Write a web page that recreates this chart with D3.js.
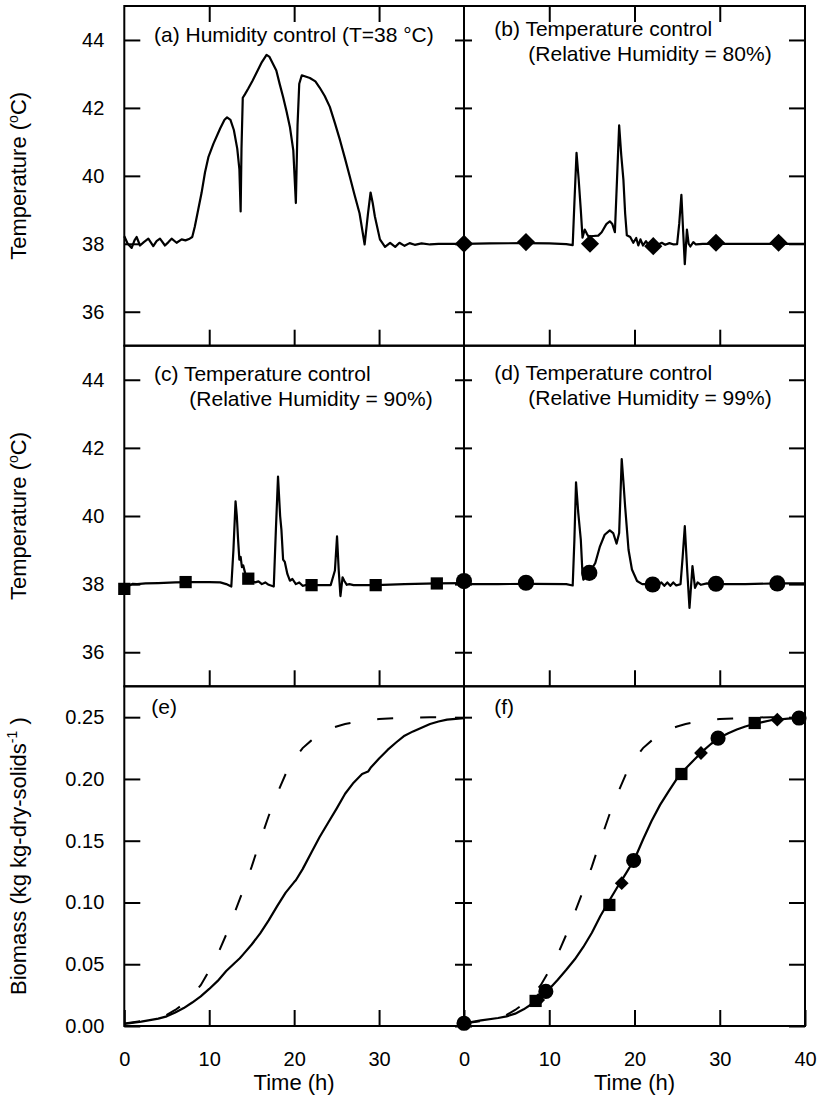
<!DOCTYPE html>
<html>
<head>
<meta charset="utf-8">
<script src="https://cdn.jsdelivr.net/npm/d3@7"></script>
<style>
    body { margin: 0; background: #fff; }
    svg { font-family: "Liberation Sans", Arial, Helvetica, sans-serif; }
</style>
</head>
<body>
<div id="chart"></div>
<script>
'use strict';

// Tick values.
var hourTicks = [10, 20, 30];
var hourLabelsLeft = [0, 10, 20, 30];
var hourLabelsRight = [0, 10, 20, 30, 40];
var tempTicks = [36, 38, 40, 42, 44];
var bioTicks = [0, 0.05, 0.10, 0.15, 0.20, 0.25];

// (a) Humidity control, T set point 38 C: [time h, temperature C]
var tempA = [[0,38.22],[0.4,38.0],[0.87,37.88],[1.2,38.1],[1.45,38.2],[1.85,37.95],[2.3,38.05],[2.83,38.15],
    [3.41,37.93],[3.8,38.08],[4.2,38.15],[4.79,37.95],[5.2,38.05],[5.57,38.15],[6.16,38.03],[6.75,38.13],
    [7.2,38.1],[7.7,38.15],[8.0,38.2],[8.3,38.5],[8.7,39.0],[9.1,39.5],[9.5,40.1],[9.9,40.55],[10.5,40.95],
    [11.3,41.4],[11.8,41.65],[12.1,41.72],[12.5,41.65],[12.9,41.35],[13.3,40.8],[13.55,40.2],[13.7,38.95],
    [13.8,40.8],[13.95,42.3],[14.2,42.4],[14.6,42.57],[15.1,42.8],[15.6,43.05],[16.2,43.35],[16.75,43.56],
    [17.1,43.5],[17.5,43.3],[17.9,43.1],[18.3,42.7],[18.7,42.32],[19.1,41.9],[19.5,41.44],[19.9,40.75],
    [20.2,39.2],[20.4,41.5],[20.6,42.71],[20.9,42.96],[21.85,42.88],[22.5,42.78],[23.0,42.6],[23.6,42.35],
    [24.2,42.03],[24.8,41.55],[25.4,41.05],[26.0,40.5],[26.55,39.98],[27.1,39.45],[27.7,38.9],[28.3,37.98],
    [28.7,38.9],[29.0,39.51],[29.25,39.2],[29.5,38.81],[30.1,38.13],[30.7,37.91],[31.3,38.03],[31.9,37.91],
    [32.4,38.03],[33.0,37.94],[33.6,38.02],[34.2,37.97],[35.0,38.01],[36.0,37.98],[37.0,38.0],[38.0,38.0],[40.0,38.0]];

// (b) Temperature control, RH = 80%
var tempB = [[0,38.0],[3,38.01],[7,38.02],[10,38.01],[12.0,37.99],[12.75,37.96],[12.95,39.2],[13.2,40.68],
    [13.45,39.9],[13.7,39.0],[13.9,38.18],[14.16,38.42],[14.4,38.3],[14.58,38.22],[15.17,38.23],[15.75,38.24],
    [16.15,38.34],[16.7,38.58],[17.1,38.66],[17.4,38.58],[17.7,38.34],[17.95,39.9],[18.2,41.49],[18.45,40.6],
    [18.7,39.88],[18.9,38.9],[19.1,38.25],[19.5,38.2],[19.86,38.03],[20.2,38.17],[20.45,37.95],[20.7,38.13],
    [21.0,37.95],[21.35,38.08],[21.6,37.98],[22.2,38.0],[22.8,37.98],[23.2,38.03],[23.6,37.97],[24.1,38.02],
    [24.6,37.98],[25.0,37.99],[25.25,38.6],[25.5,39.44],[25.7,38.4],[25.9,37.4],[26.15,38.42],[26.35,38.0],
    [26.55,37.92],[26.9,38.05],[27.2,37.98],[28,38.0],[32,38.0],[36,38.0],[40,38.0]];

// (c) Temperature control, RH = 90%
var tempC = [[0,37.86],[0.15,37.95],[0.3,37.92],[0.5,38.0],[0.7,37.97],[1.0,38.01],[1.5,38.0],[2.5,38.02],
    [4,38.03],[6,38.05],[8,38.06],[10,38.06],[11.3,38.05],[12.0,38.0],[12.6,37.93],[12.85,39.0],[13.1,40.43],
    [13.25,40.0],[13.4,39.3],[13.55,38.72],[13.7,38.8],[13.85,38.5],[14.0,38.55],[14.3,38.25],[14.6,38.15],
    [15.0,38.1],[15.4,38.05],[15.8,38.08],[16.2,38.0],[16.6,38.05],[17.0,37.98],[17.6,37.93],[17.85,39.6],
    [18.1,41.16],[18.35,40.0],[18.5,39.6],[18.7,38.72],[18.9,38.65],[19.2,38.3],[19.5,38.1],[19.8,38.15],
    [20.2,38.0],[20.6,38.05],[21.0,37.95],[21.5,37.98],[22.05,37.97],[23,37.97],[24.3,37.97],[24.8,38.4],
    [25.05,39.4],[25.25,38.4],[25.45,37.65],[25.7,38.2],[25.9,38.1],[26.2,37.98],[26.5,38.0],[27,37.97],
    [29.6,37.97],[33,38.0],[36.8,38.02],[40,38.03]];

// (d) Temperature control, RH = 99%
var tempD = [[0,38.09],[0.3,37.99],[0.6,38.02],[1,38.0],[4,38.0],[8,38.01],[12.0,38.0],[12.75,37.96],
    [12.95,39.3],[13.14,40.99],[13.4,40.1],[13.7,39.31],[13.9,38.3],[14.0,38.13],[14.3,38.2],[14.7,38.33],
    [15.0,38.45],[15.4,38.62],[15.95,39.11],[16.5,39.45],[17.1,39.58],[17.5,39.5],[17.9,39.19],[18.2,39.5],
    [18.5,41.67],[18.7,41.0],[18.9,40.28],[19.3,39.01],[19.7,38.43],[20.3,38.09],[20.9,38.0],[21.5,38.0],
    [22.13,37.99],[22.8,37.99],[23.15,38.05],[23.5,37.95],[23.85,38.05],[24.2,37.95],[24.55,38.05],[24.9,37.96],
    [25.4,38.0],[25.65,38.8],[25.9,39.7],[26.2,38.33],[26.45,37.3],[26.8,38.53],[27.1,37.89],[27.4,38.05],
    [27.8,37.98],[28.5,38.02],[30,38.0],[33,38.0],[36.75,38.02],[40,38.02]];

// Markers on the temperature panels
var markB = [[0,38.0],[7.27,38.05],[14.78,38.0],[22.2,37.93],[29.56,38.03],[36.9,38.03]];
var markC = [[0,37.86],[7.22,38.06],[14.6,38.16],[22.05,37.97],[29.6,37.97],[36.8,38.02]];
var markD = [[0,38.09],[7.27,38.04],[14.7,38.33],[22.13,37.99],[29.56,38.01],[36.75,38.02]];

// (e) biomass, humidity control (solid) and reference (dashed)
var bioE = [[0,0.0016],[2,0.0035],[4,0.006],[5,0.0078],[6,0.011],[7,0.0145],[8,0.019],[9,0.024],[10,0.030],
    [11,0.0365],[12,0.0445],[13,0.051],[13.6,0.0548],[14,0.058],[15,0.066],[16,0.075],[17,0.0855],[18,0.097],
    [19,0.108],[20,0.1165],[20.2,0.118],[21,0.127],[22,0.140],[23,0.153],[24,0.1645],[25,0.176],[26,0.188],
    [27,0.197],[28,0.204],[28.7,0.206],[29,0.209],[30,0.2165],[31,0.2235],[32,0.2295],[33,0.235],[34,0.2385],
    [35,0.2415],[36,0.2445],[37,0.2465],[38,0.248],[40,0.2493]];

var bioDashed = [[0,0.002],[2,0.004],[4,0.0065],[5,0.009],[6,0.013],[7,0.018],[8,0.025],[9,0.033],[10,0.045],
    [11,0.058],[12,0.074],[13,0.092],[14,0.110],[15,0.129],[16,0.150],[17,0.170],[18,0.188],[19,0.204],
    [20,0.216],[21,0.225],[22,0.231],[23,0.236],[24,0.240],[25,0.2425],[26,0.2445],[28,0.247],[30,0.2485],
    [33,0.2495],[36,0.25],[40,0.25]];

// (f) biomass, temperature control
var bioF = [[0,0.0022],[2,0.0045],[4,0.0065],[5,0.0078],[6,0.010],[7,0.0135],[8,0.018],[9,0.023],[10,0.030],
    [11,0.0375],[12,0.0455],[13,0.054],[14,0.064],[15,0.0755],[16,0.089],[17,0.101],[18,0.1125],[19,0.1235],
    [20,0.135],[21,0.151],[22,0.166],[23,0.179],[24,0.19],[25,0.2005],[26,0.2085],[27,0.2155],[28,0.2225],
    [29,0.2285],[30,0.2335],[31,0.237],[32,0.24],[33,0.2425],[34,0.2445],[35,0.246],[36,0.2475],[38,0.2488],
    [40,0.2495]];
var bioCircleF = [[0,0.0022],[9.6,0.028],[19.9,0.134],[29.8,0.233],[39.3,0.2493]];
var bioSquareF = [[8.4,0.0203],[17.05,0.098],[25.5,0.204],[34.1,0.2453]];
var bioDiamondF = [[8.7,0.021],[18.5,0.1156],[27.8,0.221],[36.75,0.248]];

var WIDTH = 818;
var HEIGHT = 1098;
var colX = [124.3, 464, 805];
var rowY = [6, 345.7, 686.3, 1026];

var svg = d3.select("#chart")
    .append("svg")
    .attr("width", WIDTH)
    .attr("height", HEIGHT);

var panels = [
    { col: 0, row: 0, kind: "temp", lines: [tempA], title: ["(a) Humidity control (T=38 \u00B0C)"], tx: [154], ty: [42] },
    { col: 1, row: 0, kind: "temp", lines: [tempB], marks: [{ pts: markB, shape: "diamond", size: 165 }],
      title: ["(b) Temperature control", "(Relative Humidity = 80%)"], tx: [494.3, 528.3], ty: [36, 61] },
    { col: 0, row: 1, kind: "temp", lines: [tempC], marks: [{ pts: markC, shape: "square", size: 150 }],
      title: ["(c) Temperature control", "(Relative Humidity = 90%)"], tx: [154, 189.3], ty: [381, 405.5] },
    { col: 1, row: 1, kind: "temp", lines: [tempD], marks: [{ pts: markD, shape: "circle", size: 205 }],
      title: ["(d) Temperature control", "(Relative Humidity = 99%)"], tx: [494.3, 528.3], ty: [380, 404.5] },
    { col: 0, row: 2, kind: "bio", lines: [bioE], dashed: bioDashed, title: ["(e)"], tx: [151.3], ty: [714] },
    { col: 1, row: 2, kind: "bio", lines: [bioF], dashed: bioDashed,
      marks: [{ pts: bioSquareF, shape: "square", size: 150 },
              { pts: bioDiamondF, shape: "diamond", size: 95 },
              { pts: bioCircleF, shape: "circle", size: 180 }],
      title: ["(f)"], tx: [494.3], ty: [714] }
];

function styleAxis(g) {
    g.select(".domain").remove();
    g.attr("font-family", "'Liberation Sans', Arial, sans-serif").attr("font-size", 20);
    g.selectAll(".tick line").attr("stroke", "#000").attr("stroke-width", 2);
    g.selectAll(".tick text").attr("fill", "#000");
}

var markLayer = [];

panels.forEach(function (p) {
    var x0 = colX[p.col], x1 = colX[p.col + 1];
    var y0 = rowY[p.row], y1 = rowY[p.row + 1];
    var x = d3.scaleLinear().domain([0, 40]).range([x0, x1]);
    var y = d3.scaleLinear()
        .domain(p.kind === "temp" ? [35, 45] : [0, 0.275])
        .range([y1, y0]);
    var yTicks = p.kind === "temp" ? tempTicks : bioTicks;
    var g = svg.append("g");

    // left side
    if (p.col === 0) {
        g.append("g").attr("transform", "translate(" + x0 + ",0)")
            .call(d3.axisLeft(y).tickValues(yTicks).tickSize(-16).tickPadding(20)
                .tickFormat(p.kind === "temp" ? d3.format("d") : d3.format(".2f")))
            .call(styleAxis);
        g.append("g").attr("transform", "translate(" + x1 + ",0)")
            .call(d3.axisRight(y).tickValues(yTicks).tickSize(-9).tickFormat(""))
            .call(styleAxis);
    } else {
        g.append("g").attr("transform", "translate(" + x0 + ",0)")
            .call(d3.axisLeft(y).tickValues(yTicks).tickSize(-8).tickFormat(""))
            .call(styleAxis);
        g.append("g").attr("transform", "translate(" + x1 + ",0)")
            .call(d3.axisRight(y).tickValues(yTicks).tickSize(-16).tickFormat(""))
            .call(styleAxis);
    }

    // top ticks only on first row
    if (p.row === 0) {
        g.append("g").attr("transform", "translate(0," + y0 + ")")
            .call(d3.axisTop(x).tickValues(hourTicks).tickSize(-16).tickFormat(""))
            .call(styleAxis);
    }

    // bottom
    if (p.row === 2) {
        g.append("g").attr("transform", "translate(0," + y1 + ")")
            .call(d3.axisBottom(x).tickValues(p.col === 0 ? hourLabelsLeft : hourLabelsRight)
                .tickSize(-16).tickPadding(26).tickFormat(d3.format("d")))
            .call(styleAxis);
        g.append("text")
            .attr("x", x(20))
            .attr("y", 1089.5)
            .attr("text-anchor", "middle")
            .attr("font-size", 22)
            .text("Time (h)");
    } else {
        g.append("g").attr("transform", "translate(0," + y1 + ")")
            .call(d3.axisBottom(x).tickValues(hourTicks).tickSize(-16).tickFormat(""))
            .call(styleAxis);
    }

    // frame
    g.append("rect")
        .attr("x", x0).attr("y", y0)
        .attr("width", x1 - x0).attr("height", y1 - y0)
        .style("fill", "none")
        .style("stroke", "#000")
        .style("stroke-width", 2);

    var line = d3.line()
        .x(function (d) { return x(d[0]); })
        .y(function (d) { return y(d[1]); });

    if (p.dashed) {
        g.append("path")
            .attr("d", line(p.dashed))
            .style("fill", "none")
            .style("stroke", "#000")
            .style("stroke-width", 2)
            .style("stroke-dasharray", "16,27");
    }

    p.lines.forEach(function (ln) {
        g.append("path")
            .attr("d", line(ln))
            .style("fill", "none")
            .style("stroke", "#000")
            .style("stroke-width", 2.2)
            .style("stroke-linejoin", "round");
    });

    // panel titles
    p.title.forEach(function (t, i) {
        g.append("text")
            .attr("x", p.tx[i])
            .attr("y", p.ty[i])
            .attr("font-size", 21)
            .text(t);
    });

    if (p.marks) markLayer.push({ marks: p.marks, x: x, y: y });

    // y title on left column
    if (p.col === 0) {
        var lab = g.append("text")
            .attr("transform", "translate(26," + ((y0 + y1) / 2) + ") rotate(-90)")
            .attr("text-anchor", "middle")
            .attr("font-size", 22);
        if (p.kind === "temp") {
            lab.append("tspan").text("Temperature (");
            lab.append("tspan").attr("font-size", 14).attr("dy", -8).text("o");
            lab.append("tspan").attr("dy", 8).text("C)");
        } else {
            lab.append("tspan").text("Biomass (kg kg-dry-solids");
            lab.append("tspan").attr("font-size", 14).attr("dy", -9).text("-1");
            lab.append("tspan").attr("dy", 9).text(" )");
        }
    }
});

// markers go last so they sit on top of neighbouring frames
markLayer.forEach(function (m) {
    m.marks.forEach(function (mk) {
        var sym = d3.symbol()
            .type(mk.shape === "circle" ? d3.symbolCircle : d3.symbolSquare)
            .size(mk.size);
        svg.append("g").selectAll("path")
            .data(mk.pts)
            .enter().append("path")
            .attr("d", sym)
            .attr("transform", function (d) {
                return "translate(" + m.x(d[0]) + "," + m.y(d[1]) + ")" +
                    (mk.shape === "diamond" ? " rotate(45)" : "");
            })
            .style("fill", "#000");
    });
});
</script>
</body>
</html>
